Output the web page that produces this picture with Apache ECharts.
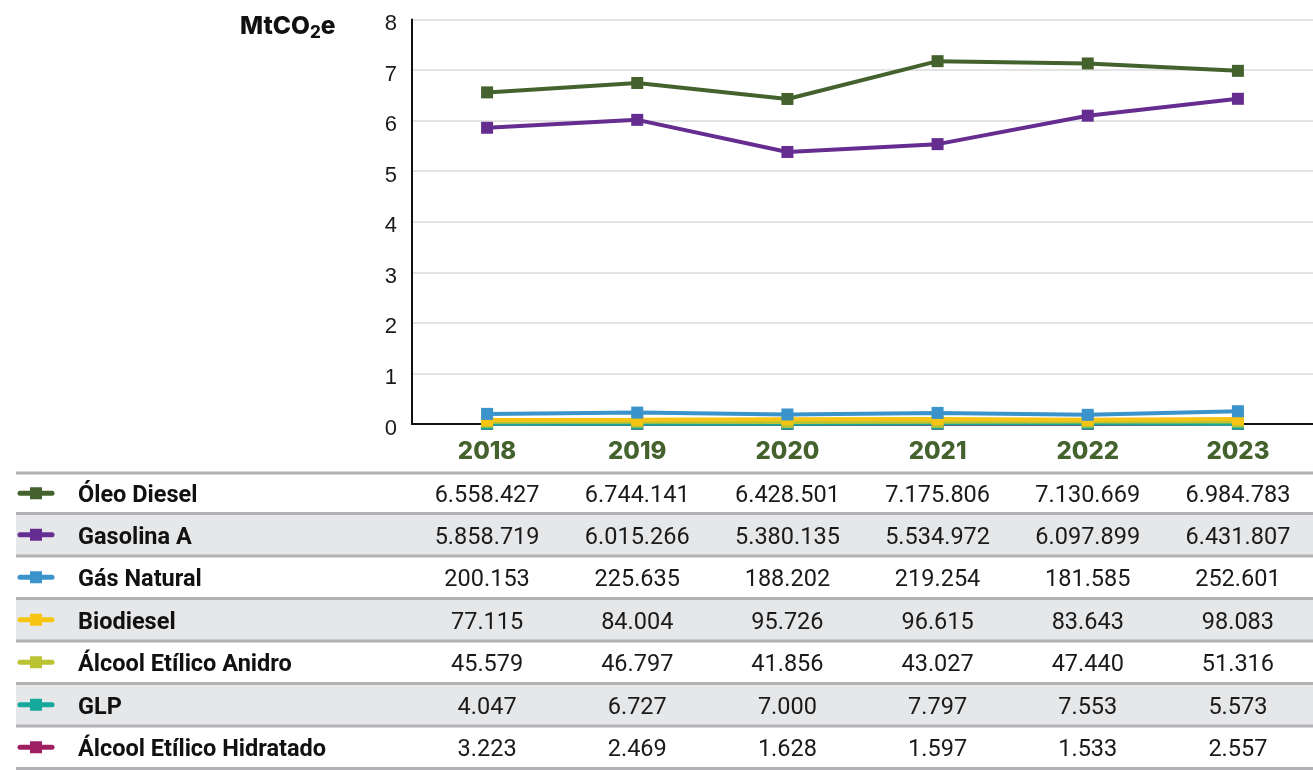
<!DOCTYPE html>
<html>
<head>
<meta charset="utf-8">
<script src="https://cdn.jsdelivr.net/npm/echarts@6/dist/echarts.min.js"></script>
<style>
html,body{margin:0;padding:0;background:#fff;}
#main{width:1313px;height:770px;}
</style>
</head>
<body>
<div id="main"></div>
<script>
const years = ['2018', '2019', '2020', '2021', '2022', '2023'];
const seriesNames = ['Óleo Diesel', 'Gasolina A', 'Gás Natural', 'Biodiesel', 'Álcool Etílico Anidro', 'GLP', 'Álcool Etílico Hidratado'];
const oleoDiesel = [6558427, 6744141, 6428501, 7175806, 7130669, 6984783];
const gasolinaA = [5858719, 6015266, 5380135, 5534972, 6097899, 6431807];
const gasNatural = [200153, 225635, 188202, 219254, 181585, 252601];
const biodiesel = [77115, 84004, 95726, 96615, 83643, 98083];
const alcoolAnidro = [45579, 46797, 41856, 43027, 47440, 51316];
const glp = [4047, 6727, 7000, 7797, 7553, 5573];
const alcoolHidratado = [3223, 2469, 1628, 1597, 1533, 2557];
const colors = ['#44622d', '#662d91', '#3a93cb', '#f8c413', '#bcc332', '#14a99a', '#9e1f63'];
const yMin = 0, yMax = 8, yInterval = 1;
const unitLabel = 'MtCO';

const allData = [oleoDiesel, gasolinaA, gasNatural, biodiesel, alcoolAnidro, glp, alcoolHidratado];

function fmt(n) {
  return String(n).replace(/\B(?=(\d{3})+(?!\d))/g, '.');
}

const chart = echarts.init(document.getElementById('main'), null, {renderer: 'canvas'});

const series = allData.map((d, i) => ({
  name: seriesNames[i],
  type: 'line',
  data: d.map(v => v / 1e6),
  symbol: 'rect',
  symbolSize: 12,
  z: 20 - i,
  lineStyle: {width: 4, color: colors[i]},
  itemStyle: {color: colors[i]},
  emphasis: {disabled: true},
  animation: false
}));

chart.setOption({
  animation: false,
  grid: {left: 412, right: 0, top: 19.5, bottom: 346, containLabel: false},
  xAxis: {
    type: 'category',
    data: years,
    boundaryGap: true,
    axisLine: {lineStyle: {color: '#111', width: 2}},
    axisTick: {show: false},
    axisLabel: {color: '#44622d', fontFamily: 'Inter', fontWeight: 800, fontSize: 24, margin: 16}
  },
  yAxis: {
    type: 'value',
    min: yMin, max: yMax, interval: yInterval,
    axisLine: {show: true, lineStyle: {color: '#111', width: 2}},
    axisTick: {show: false},
    axisLabel: {
      margin: 15,
      formatter: '{a|{value}}',
      rich: {a: {color: '#1a1a1a', fontFamily: 'Liberation Sans', fontSize: 22, padding: [9, 0, 0, 0]}}
    },
    splitLine: {lineStyle: {color: '#e4e4e4', width: 2}}
  },
  series: series
});

// Table below the chart
const sepY = [473];
for (let i = 1; i <= seriesNames.length; i++) sepY.push(513.5 + (i - 1) * 42.5);
const graphics = [];
// unit label
graphics.push({
  type: 'text', left: 240, top: 14,
  style: {
    text: unitLabel + '{sub|2}{b|e}',
    fontFamily: 'Inter', fontWeight: 800, fontSize: 24.5, fill: '#111',
    rich: {
      sub: {fontFamily: 'Inter', fontWeight: 800, fontSize: 17, fill: '#111', padding: [12, 0, 0, 0]},
      b: {fontFamily: 'Inter', fontWeight: 800, fontSize: 24.5, fill: '#111'}
    }
  }
});
for (let r = 0; r < seriesNames.length; r++) {
  if (r % 2 === 1) {
    graphics.push({type: 'rect', shape: {x: 16, y: sepY[r], width: 1297, height: sepY[r + 1] - sepY[r]}, style: {fill: '#e6e7e9'}, z: 1});
  }
}
sepY.forEach(y => {
  graphics.push({type: 'rect', shape: {x: 16, y: y - 1.5, width: 1297, height: 3}, style: {fill: '#b2b2b4'}, z: 2});
});
for (let r = 0; r < seriesNames.length; r++) {
  const cy = (sepY[r] + sepY[r + 1]) / 2;
  const ty = cy + 3;
  graphics.push({type: 'line', shape: {x1: 20, y1: cy, x2: 52, y2: cy}, style: {stroke: colors[r], lineWidth: 5, lineCap: 'round'}, z: 3});
  graphics.push({type: 'rect', shape: {x: 30, y: cy - 6, width: 12, height: 12}, style: {fill: colors[r]}, z: 4});
  graphics.push({type: 'text', x: 78, y: ty, style: {text: seriesNames[r], fontFamily: 'Roboto', fontWeight: 'bold', fontSize: 23.5, fill: '#111', verticalAlign: 'middle', align: 'left'}, z: 3});
  allData[r].forEach((v, c) => {
    const px = chart.convertToPixel({xAxisIndex: 0}, years[c]);
    graphics.push({type: 'text', x: px, y: ty, style: {text: fmt(v), fontFamily: 'Roboto', fontSize: 23.5, fill: '#1a1a1a', verticalAlign: 'middle', align: 'center'}, z: 3});
  });
}
chart.setOption({graphic: graphics});
</script>
</body>
</html>
